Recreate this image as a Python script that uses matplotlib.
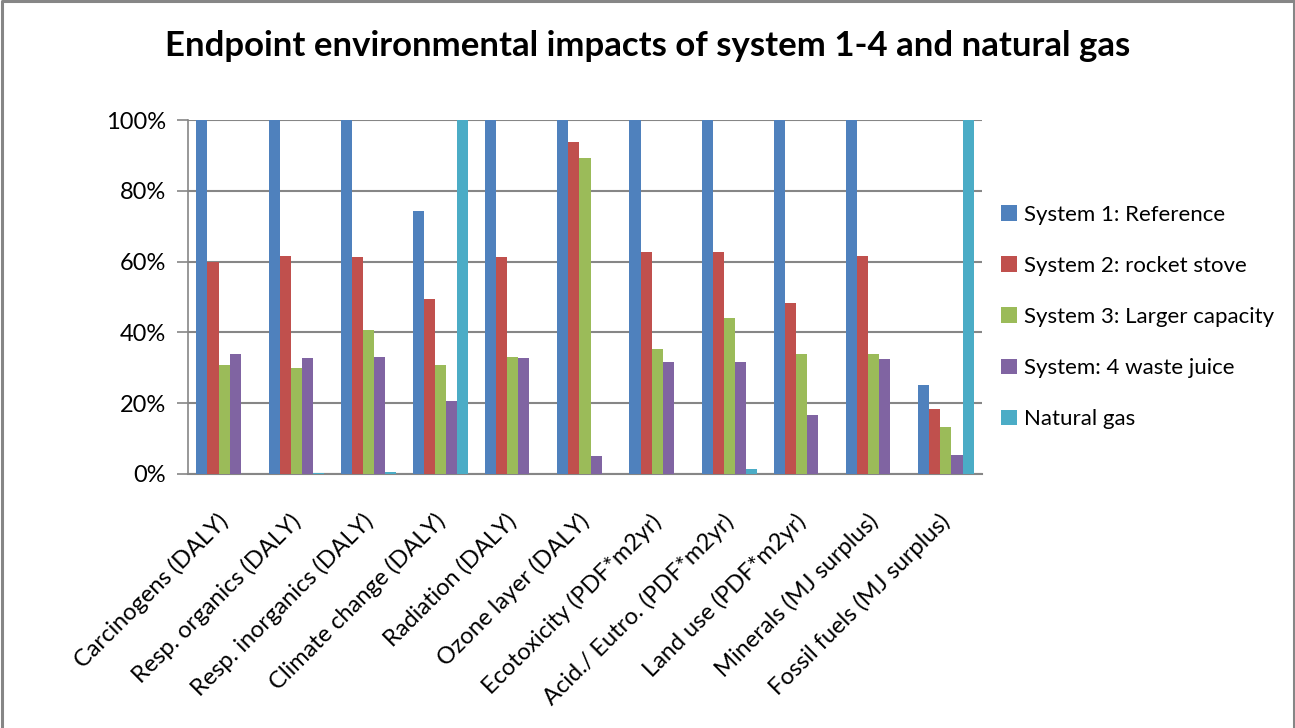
import matplotlib
matplotlib.use("Agg")
import matplotlib.pyplot as plt
import matplotlib.transforms as mtransforms
import numpy as np
from matplotlib.lines import Line2D

plt.rcParams['font.family'] = ['Lato', 'DejaVu Sans']

categories = [
    "Carcinogens (DALY)", "Resp. organics (DALY)", "Resp. inorganics (DALY)",
    "Climate change (DALY)", "Radiation (DALY)", "Ozone layer (DALY)",
    "Ecotoxicity (PDF*m2yr)", "Acid./ Eutro. (PDF*m2yr)", "Land use (PDF*m2yr)",
    "Minerals (MJ surplus)", "Fossil fuels (MJ surplus)",
]

# share of the worst system per impact category, in %
system1 = [100, 100, 100, 74.2, 100, 100, 100, 100, 100, 100, 25.2]
system2 = [59.8, 61.6, 61.2, 49.4, 61.2, 93.8, 62.6, 62.8, 48.4, 61.7, 18.4]
system3 = [30.7, 30.0, 40.6, 30.9, 33.1, 89.3, 35.4, 44.2, 34.0, 33.8, 13.4]
system4 = [34.0, 32.7, 33.1, 20.7, 32.9, 5.1, 31.5, 31.5, 16.6, 32.6, 5.5]
natural_gas = [0, 0.3, 0.5, 100, 0, 0, 0, 1.5, 0, 0, 100]

series_names = ["System 1: Reference", "System 2: rocket stove",
                "System 3: Larger capacity", "System: 4 waste juice", "Natural gas"]
series_colors = ["#4f81bd", "#c0504d", "#9bbb59", "#8064a2", "#4bacc6"]
y_ticks = [0, 20, 40, 60, 80, 100]

fig = plt.figure(figsize=(12.95, 7.28), dpi=100)
ax = fig.add_axes([188 / 1295, 1 - 474 / 728, (982 - 188) / 1295, (474 - 120) / 728])

x = np.arange(len(categories))
w = 1 / 6.5
all_series = [system1, system2, system3, system4, natural_gas]
for i, (vals, name, col) in enumerate(zip(all_series, series_names, series_colors)):
    ax.bar(x + (i - 2) * w, vals, width=w, color=col, label=name, zorder=3)

ax.set_xlim(-0.5, len(categories) - 0.5)
ax.set_ylim(0, 100)
ax.set_yticks(y_ticks)
ax.set_yticklabels([f"{v}%" for v in y_ticks], fontsize=17)
ax.yaxis.grid(True, color="#868686", linewidth=1.5, zorder=0)
ax.tick_params(axis="y", length=8, width=1.2, color="#868686", pad=8)
ax.set_xticks(x)
ax.set_xticklabels(categories, rotation=45, ha="right", va="top",
                   rotation_mode="anchor", fontsize=17)
ax.tick_params(axis="x", length=0, pad=26)
# nudge the slanted category labels a little to the left
shift = mtransforms.ScaledTranslation(-7 / 100, 0, fig.dpi_scale_trans)
for lbl in ax.get_xticklabels():
    lbl.set_transform(lbl.get_transform() + shift)
for side in ["top", "right"]:
    ax.spines[side].set_visible(False)
ax.spines["left"].set_color("#868686")
ax.spines["left"].set_linewidth(1.2)
ax.spines["bottom"].set_color("#868686")
ax.spines["bottom"].set_linewidth(1.5)

fig.text(0.5, 1 - 46 / 728, "Endpoint environmental impacts of system 1-4 and natural gas",
         ha="center", va="center", fontsize=25, fontweight="bold")

fig.legend(loc="center left", bbox_to_anchor=(1001 / 1295, 1 - 317 / 728),
           frameon=False, fontsize=16, handlelength=0.7, handleheight=0.7,
           handletextpad=0.35, labelspacing=1.4, borderpad=0, borderaxespad=0)

# grey chart-area frame (top, left, right)
frame = Line2D([0.9995, 0.9995, 0.0012, 0.0012], [0.0, 0.9985, 0.9985, 0.0],
               transform=fig.transFigure, color="#868686", linewidth=2.2)
fig.lines.append(frame)

fig.savefig("out.png", dpi=100)
